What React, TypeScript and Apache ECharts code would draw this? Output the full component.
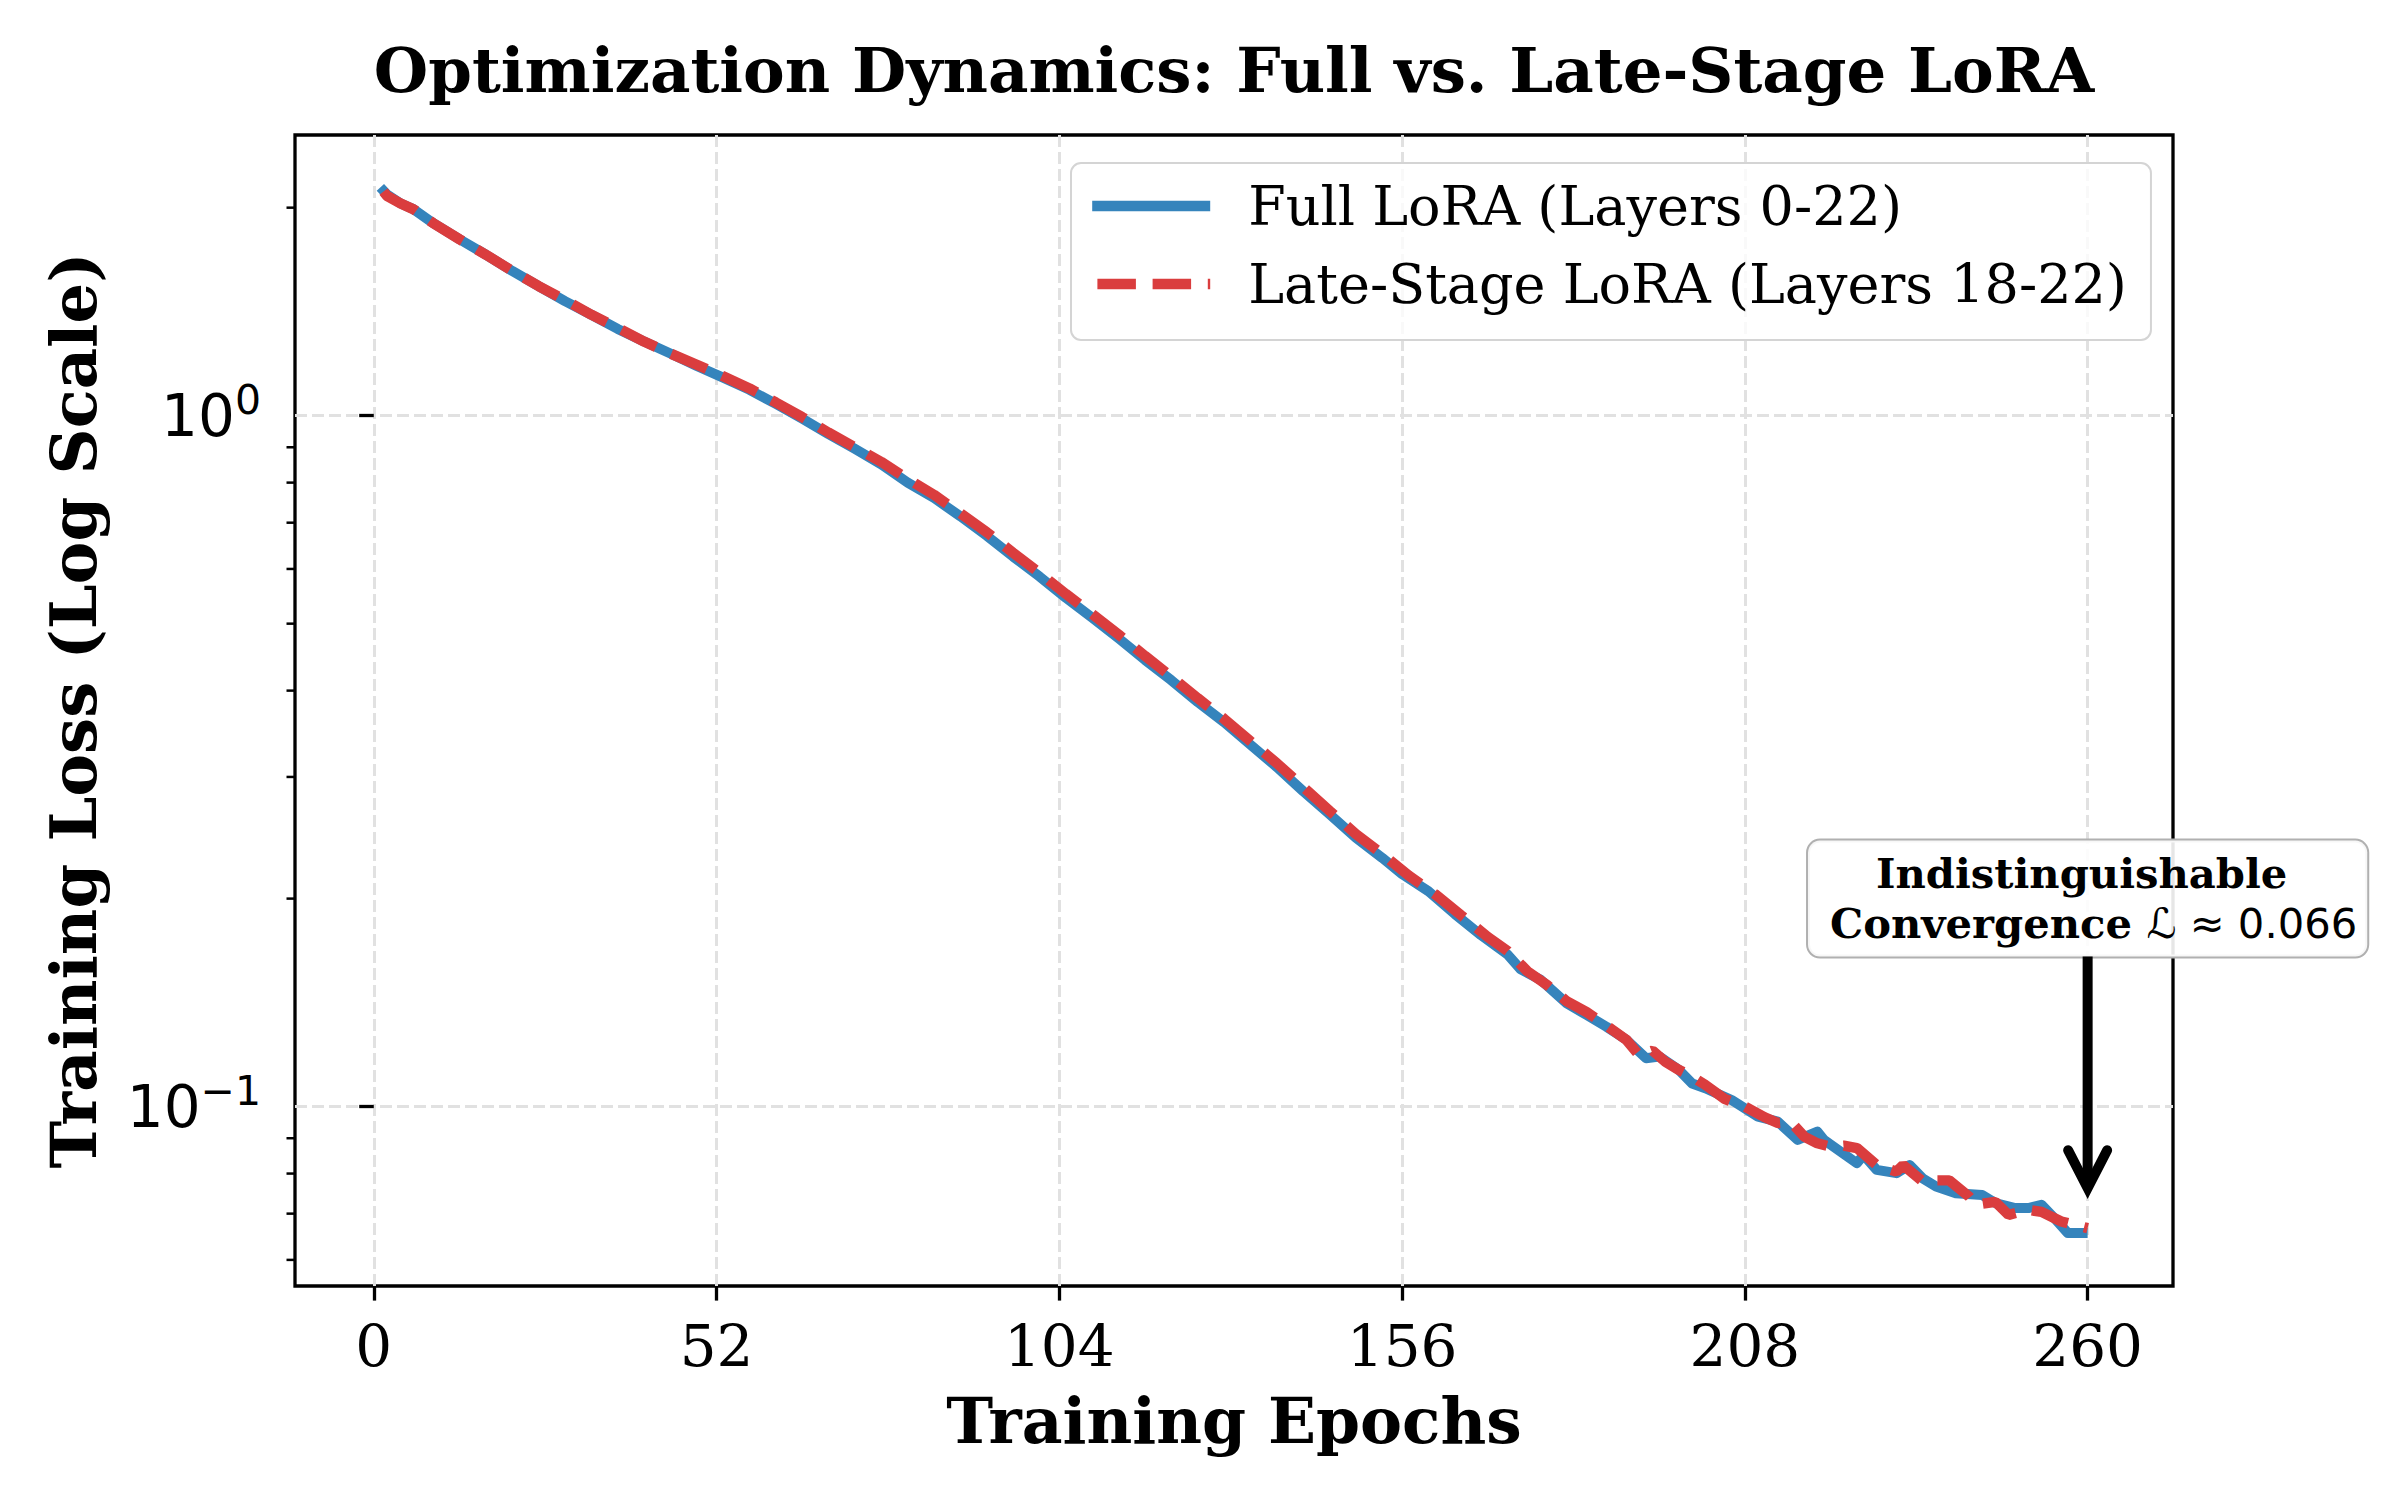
import React, { useEffect, useRef } from "react";
import * as echarts from "echarts";

// Training loss per epoch, full LoRA (layers 0-22)
const fullEpochs = [
  1, 2, 4, 6, 9, 13, 17, 21, 25, 29, 33, 37, 41, 45, 49, 53, 57, 61, 65, 69,
  73, 77, 81, 85, 89, 93, 97, 101, 105, 109, 113, 117, 121, 125, 129, 133, 137,
  141, 145, 149, 153, 156, 160, 164, 168, 172, 174, 177, 181, 184, 187, 190,
  193, 195, 198, 200, 202, 206, 210, 213, 216, 219, 220, 225, 226, 228, 231,
  233, 235, 237, 240, 244, 246, 249, 251, 253, 255, 257, 260,
];
const fullLoss = [
  2.14, 2.09, 2.03, 1.99, 1.9, 1.8, 1.71, 1.62, 1.54, 1.465, 1.4, 1.335, 1.28,
  1.23, 1.18, 1.135, 1.09, 1.04, 0.99, 0.94, 0.895, 0.85, 0.8, 0.76, 0.715,
  0.67, 0.625, 0.585, 0.545, 0.51, 0.476, 0.443, 0.414, 0.385, 0.36, 0.334,
  0.31, 0.286, 0.265, 0.245, 0.229, 0.217, 0.205, 0.19, 0.177, 0.166, 0.158,
  0.1526, 0.141, 0.1357, 0.1305, 0.125, 0.1175, 0.1182, 0.113, 0.108, 0.1063,
  0.1022, 0.0967, 0.0951, 0.0895, 0.092, 0.0895, 0.0828, 0.0851, 0.081, 0.0801,
  0.0823, 0.0787, 0.0766, 0.0749, 0.0745, 0.0725, 0.0713, 0.0713, 0.0721,
  0.0689, 0.0656, 0.0656,
];

// Training loss per epoch, late-stage LoRA (layers 18-22)
const lateEpochs = [
  1, 2, 4, 6, 9, 13, 17, 21, 25, 29, 33, 37, 41, 45, 49, 53, 57, 61, 65, 69,
  73, 77, 81, 85, 89, 93, 97, 101, 105, 109, 113, 117, 121, 125, 129, 133, 137,
  141, 145, 149, 153, 157, 161, 165, 169, 172, 175, 178, 181, 184, 187, 190,
  192, 194, 196, 198, 200, 202, 205, 208, 211, 213, 215, 217, 219, 221, 223,
  225, 228, 231, 232, 235, 237, 239, 242, 243, 246, 248, 251, 253, 256, 260,
];
const lateLoss = [
  2.14, 2.08, 2.03, 1.99, 1.9, 1.8, 1.71, 1.62, 1.54, 1.47, 1.4, 1.34, 1.28,
  1.23, 1.185, 1.14, 1.095, 1.045, 0.995, 0.945, 0.9, 0.857, 0.81, 0.768, 0.722,
  0.678, 0.633, 0.592, 0.552, 0.516, 0.482, 0.449, 0.419, 0.39, 0.364, 0.338,
  0.314, 0.29, 0.268, 0.248, 0.232, 0.216, 0.203, 0.189, 0.176, 0.168, 0.157,
  0.15, 0.142, 0.137, 0.131, 0.125, 0.1185, 0.1205, 0.116, 0.113, 0.1105,
  0.1075, 0.1025, 0.1, 0.0965, 0.0947, 0.095, 0.0905, 0.0885, 0.0875, 0.0878,
  0.0871, 0.0823, 0.0805, 0.0823, 0.0779, 0.0782, 0.0782, 0.0741, 0.0721,
  0.0728, 0.0697, 0.0709, 0.0704, 0.0682, 0.0667,
];

const seriesNames = ["Full LoRA (Layers 0-22)", "Late-Stage LoRA (Layers 18-22)"];
const xTicks = [0, 52, 104, 156, 208, 260];
const yMajorTicks = [0.1, 1];
const yMinorTicks = [0.06, 0.07, 0.08, 0.09, 0.2, 0.3, 0.4, 0.5, 0.6, 0.7, 0.8, 0.9, 2];

const titleText = "Optimization Dynamics: Full vs. Late-Stage LoRA";
const xName = "Training Epochs";
const yName = "Training Loss (Log Scale)";

// Callout: box centred on (epoch, loss), arrow pointing down to the tip loss
const noteEpoch = 260;
const noteLoss = 0.2;
const arrowTipLoss = 0.0762;
const noteTitle = "Indistinguishable";
const noteWord = "Convergence";
const noteMath = "\u2112 \u2248 0.066";

// Axis extents (data range padded by 5% each side, log-padded for y)
const X_MIN = -11.95;
const X_MAX = 272.95;
const Y_MIN = 0.055;
const Y_MAX = 2.548;

const SERIF = "DejaVu Serif";
const SANS = "DejaVu Sans";
const BLUE = "rgb(53,132,188)";
const RED = "rgb(218,61,62)";
const GRID_LINE = { color: "#e1e1e1", width: 3, type: [12, 5] as number[] };

export default function App() {
  const ref = useRef<HTMLDivElement>(null);

  useEffect(() => {
    document.body.style.margin = "0";
    const chart = echarts.init(ref.current!, null, { renderer: "svg" });

    const option: any = {
      animation: false,
      backgroundColor: "#ffffff",
      textStyle: { fontFamily: SERIF, color: "#000" },
      title: {
        text: titleText,
        left: 1229,
        textAlign: "center",
        top: 33,
        textStyle: { fontFamily: SERIF, fontWeight: "bold", fontSize: 62.5, color: "#000" },
      },
      grid: {
        left: 295,
        top: 135,
        right: 227,
        bottom: 214,
        show: true,
        borderColor: "#000",
        borderWidth: 3.3,
        backgroundColor: "transparent",
      },
      legend: {
        orient: "vertical",
        left: 1071,
        top: 163,
        itemWidth: 118,
        itemHeight: 14,
        itemGap: 24,
        padding: [16, 24, 29, 16],
        borderColor: "#d4d4d4",
        borderWidth: 2,
        borderRadius: 10,
        backgroundColor: "rgba(255,255,255,0.8)",
        selectedMode: false,
        itemStyle: { opacity: 0 },
        lineStyle: { width: 10.4, opacity: 1 },
        textStyle: { fontFamily: SERIF, fontSize: 54, color: "#000", padding: [0, 0, 0, 33] },
        data: seriesNames,
      },
      xAxis: {
        type: "value",
        min: X_MIN,
        max: X_MAX,
        name: xName,
        nameLocation: "middle",
        nameGap: 103,
        nameTextStyle: { fontFamily: SERIF, fontWeight: "bold", fontSize: 63, color: "#000" },
        axisLine: { show: false },
        axisTick: { show: true, customValues: xTicks, length: 14.6, lineStyle: { width: 3.3, color: "#000" } },
        axisLabel: { customValues: xTicks, margin: 31, fontFamily: SERIF, fontSize: 58, color: "#000" },
        splitLine: { show: true, lineStyle: GRID_LINE },
      },
      yAxis: {
        type: "log",
        logBase: 10,
        min: Y_MIN,
        max: Y_MAX,
        name: yName,
        nameLocation: "middle",
        nameGap: 190,
        nameRotate: 90,
        nameTextStyle: { fontFamily: SERIF, fontWeight: "bold", fontSize: 64, color: "#000" },
        axisLine: { show: false },
        axisTick: { show: true, customValues: yMajorTicks, length: 14.6, lineStyle: { width: 3.3, color: "#000" } },
        axisLabel: {
          customValues: yMajorTicks,
          margin: 34,
          formatter: (v: number) => {
            const p = Math.round(Math.log10(v));
            const exp = p < 0 ? "\u2212" + String(-p) : String(p);
            return "{b|10}{s|" + exp + "}";
          },
          rich: {
            b: { fontFamily: SANS, fontSize: 58, color: "#000" },
            s: { fontFamily: SANS, fontSize: 41, color: "#000", padding: [0, 0, 32, 0] },
          },
        },
        splitLine: { show: true, lineStyle: GRID_LINE },
      },
      series: [
        {
          name: seriesNames[0],
          type: "line",
          data: fullEpochs.map((e, i) => [e, fullLoss[i]]),
          symbol: "none",
          itemStyle: { color: BLUE },
          lineStyle: { color: BLUE, width: 10, join: "round" },
          z: 3,
        },
        {
          name: seriesNames[1],
          type: "line",
          data: lateEpochs.map((e, i) => [e, lateLoss[i]]),
          symbol: "none",
          itemStyle: { color: RED },
          lineStyle: { color: RED, width: 10.4, type: [38.5, 16.7], dashOffset: 50, cap: "butt" },
          z: 4,
        },
      ],
    };

    chart.setOption(option);

    const toPx = (x: number, y: number) =>
      chart.convertToPixel({ xAxisIndex: 0, yAxisIndex: 0 }, [x, y]) as number[];

    // Minor log ticks on the left spine
    const axisX = toPx(X_MIN, 1)[0];
    const minorTicks = yMinorTicks.map((v) => {
      const py = toPx(X_MIN, v)[1];
      return {
        type: "line",
        z: 50,
        shape: { x1: axisX - 8.5, y1: py, x2: axisX, y2: py },
        style: { stroke: "#000", lineWidth: 2.5 },
      };
    });

    const [bx, by] = toPx(noteEpoch, noteLoss);
    const [tx, ty] = toPx(noteEpoch, arrowTipLoss);
    const lineH = 50;
    const padV = 8;
    const boxBottom = by + lineH + padV;
    const headW = 19.5;
    const headH = 38;

    chart.setOption({
      graphic: [
        ...minorTicks,
        {
          type: "text",
          x: bx,
          y: by,
          z: 100,
          style: {
            text: "{t1|" + noteTitle + "}\n{t2|" + noteWord + " }{m|" + noteMath + "}",
            align: "center",
            verticalAlign: "middle",
            backgroundColor: "rgba(255,255,255,0.9)",
            borderColor: "#b0b0b0",
            borderWidth: 2,
            borderRadius: 12,
            padding: [padV, 10, padV, 10],
            rich: {
              t1: { fontFamily: SERIF, fontWeight: "bold", fontSize: 41.7, lineHeight: lineH, fill: "#000", color: "#000", padding: [0, 12, 0, 0] },
              t2: { fontFamily: SERIF, fontWeight: "bold", fontSize: 41.7, lineHeight: lineH, fill: "#000", color: "#000", padding: [0, 0, 0, 12] },
              m: { fontFamily: SANS, fontSize: 41.7, lineHeight: lineH, fill: "#000", color: "#000" },
            },
          },
        },
        {
          type: "line",
          z: 100,
          shape: { x1: tx, y1: boxBottom, x2: tx, y2: ty - 2 },
          style: { stroke: "#000", lineWidth: 10 },
        },
        {
          type: "polyline",
          z: 100,
          shape: { points: [[tx - headW, ty - headH], [tx, ty], [tx + headW, ty - headH]] },
          style: { stroke: "#000", lineWidth: 10, fill: "none", lineJoin: "miter", lineCap: "round" },
        },
      ],
    });

    return () => chart.dispose();
  }, []);

  return <div ref={ref} style={{ width: 2400, height: 1500 }} />;
}
